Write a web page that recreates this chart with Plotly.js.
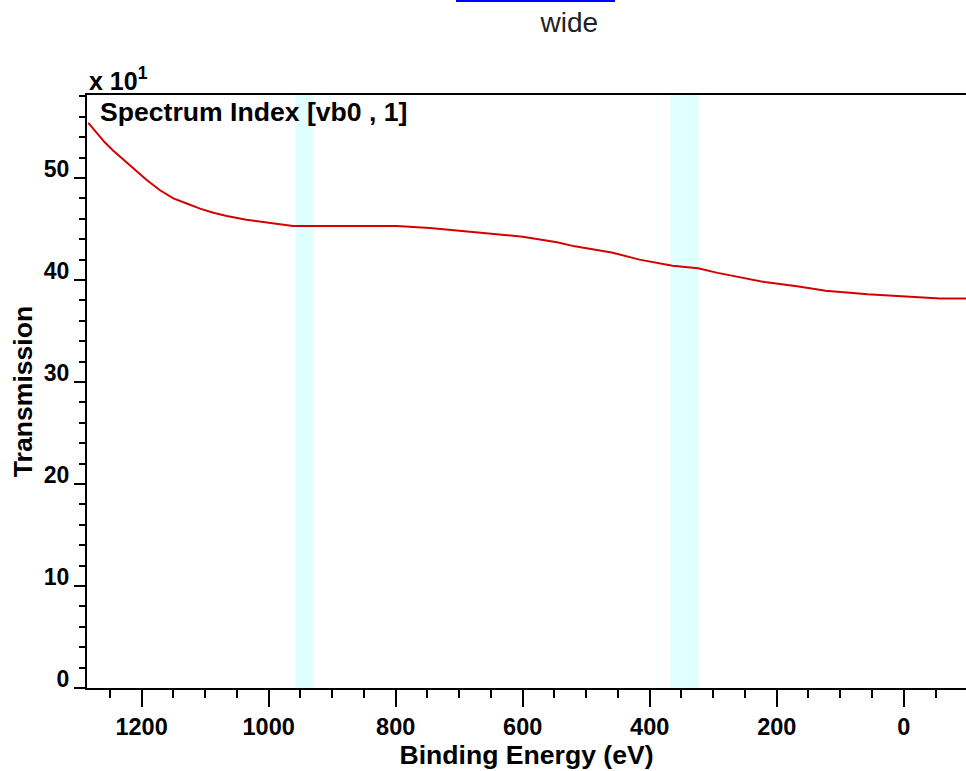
<!DOCTYPE html>
<html>
<head>
<meta charset="utf-8">
<script src="https://cdn.plot.ly/plotly-3.0.1.min.js"></script>
<style>
  html, body { margin: 0; padding: 0; background: #ffffff; }
  #chart { width: 966px; height: 771px; }
</style>
</head>
<body>
<div id="chart"></div>
<script>
// Binding energy (eV) and transmission (x 10^1)
var energy = [1284, 1271, 1258, 1245, 1229, 1216, 1205, 1192, 1171, 1150, 1129, 1108, 1087, 1066, 1035, 998, 962, 900, 850, 798, 746, 712, 636, 600, 546, 518, 460, 416, 364, 324, 293, 250, 219, 168, 123, 57, 6, -57, -98];
var transmission = [55.4, 54.4, 53.5, 52.7, 51.8, 51.1, 50.5, 49.8, 48.8, 48.0, 47.5, 47.0, 46.6, 46.27, 45.9, 45.57, 45.3, 45.3, 45.3, 45.3, 45.1, 44.9, 44.5, 44.25, 43.7, 43.3, 42.7, 42.0, 41.4, 41.15, 40.7, 40.2, 39.8, 39.4, 38.95, 38.6, 38.4, 38.2, 38.2];

// Highlighted regions (eV)
var bandStart = [958, 367];
var bandEnd = [929, 323];

// Axis ticks
var xTickVals = [1200, 1000, 800, 600, 400, 200, 0];
var xTickText = ['1200', '1000', '800', '600', '400', '200', '0'];
var yTickVals = [0, 10, 20, 30, 40, 50];
var yTickText = ['0', '10', '20', '30', '40', '50'];

var FONT = 'Liberation Sans, Arial, Helvetica, sans-serif';

var shapes = bandStart.map(function (s, i) {
  return {
    type: 'rect', xref: 'x', yref: 'paper',
    x0: s, x1: bandEnd[i], y0: 0, y1: 1,
    fillcolor: '#e0ffff', line: { width: 0 }, layer: 'below'
  };
});
// cut-off hyperlink underline at the very top of the page
shapes.push({
  type: 'line', xref: 'paper', yref: 'paper',
  x0: (456 - 87) / 879, x1: (615 - 87) / 879,
  y0: (688 - 1) / 593, y1: (688 - 1) / 593,
  line: { color: '#0000ff', width: 2 }
});

var trace = {
  x: energy,
  y: transmission,
  type: 'scatter',
  mode: 'lines',
  line: { color: '#d40000', width: 2 },
  hoverinfo: 'x+y'
};

var layout = {
  width: 966,
  height: 771,
  margin: { l: 87, r: 0, t: 95, b: 83 },
  paper_bgcolor: '#ffffff',
  plot_bgcolor: '#ffffff',
  showlegend: false,
  title: {
    text: 'wide',
    x: 530 / 966, xanchor: 'center', xref: 'paper',
    y: 1 - 22 / 771, yanchor: 'middle', yref: 'container',
    font: { family: FONT, size: 28, color: '#222222' }
  },
  xaxis: {
    range: [1286, -98],
    tickmode: 'array',
    tickvals: xTickVals,
    ticktext: xTickText,
    ticks: 'outside',
    ticklen: 17,
    tickwidth: 2,
    tickcolor: '#000000',
    minor: { dtick: 50, tick0: 0, ticks: 'outside', ticklen: 8, tickwidth: 2, tickcolor: '#000000', showgrid: false },
    showline: true,
    linecolor: '#000000',
    linewidth: 2,
    mirror: true,
    showgrid: false,
    zeroline: false,
    tickfont: { family: FONT, size: 23.5, color: '#000000', weight: 700 },
    title: {
      text: 'Binding Energy (eV)',
      font: { family: FONT, size: 26.6, color: '#000000', weight: 700 },
      standoff: 6
    }
  },
  yaxis: {
    range: [0, 58.14],
    tickmode: 'array',
    tickvals: yTickVals,
    ticktext: yTickText,
    ticks: 'outside',
    ticklen: 11,
    tickwidth: 2,
    tickcolor: '#000000',
    minor: { dtick: 2, tick0: 0, ticks: 'outside', ticklen: 6, tickwidth: 2, tickcolor: '#000000', showgrid: false },
    showline: true,
    linecolor: '#000000',
    linewidth: 2,
    mirror: false,
    showgrid: false,
    zeroline: false,
    ticklabelshift: -9,
    ticklabelstandoff: 0,
    tickfont: { family: FONT, size: 23, color: '#000000', weight: 700 },
    title: {
      text: 'Transmission',
      font: { family: FONT, size: 26.6, color: '#000000', weight: 700 },
      standoff: 3
    }
  },
  shapes: shapes,
  annotations: [
    {
      xref: 'paper', yref: 'paper', x: 0, y: 1,
      xanchor: 'left', yanchor: 'bottom', yshift: -2,
      text: 'x 10<sup>1</sup>', showarrow: false,
      font: { family: FONT, size: 25, color: '#000000', weight: 700 }
    },
    {
      xref: 'paper', yref: 'paper', x: 0, y: 1,
      xanchor: 'left', yanchor: 'middle', xshift: 11, yshift: -17,
      text: 'Spectrum Index [vb0 , 1]', showarrow: false,
      font: { family: FONT, size: 26.6, color: '#000000', weight: 700 }
    }
  ]
};

Plotly.newPlot('chart', [trace], layout, { displayModeBar: false, staticPlot: true });
</script>
</body>
</html>
